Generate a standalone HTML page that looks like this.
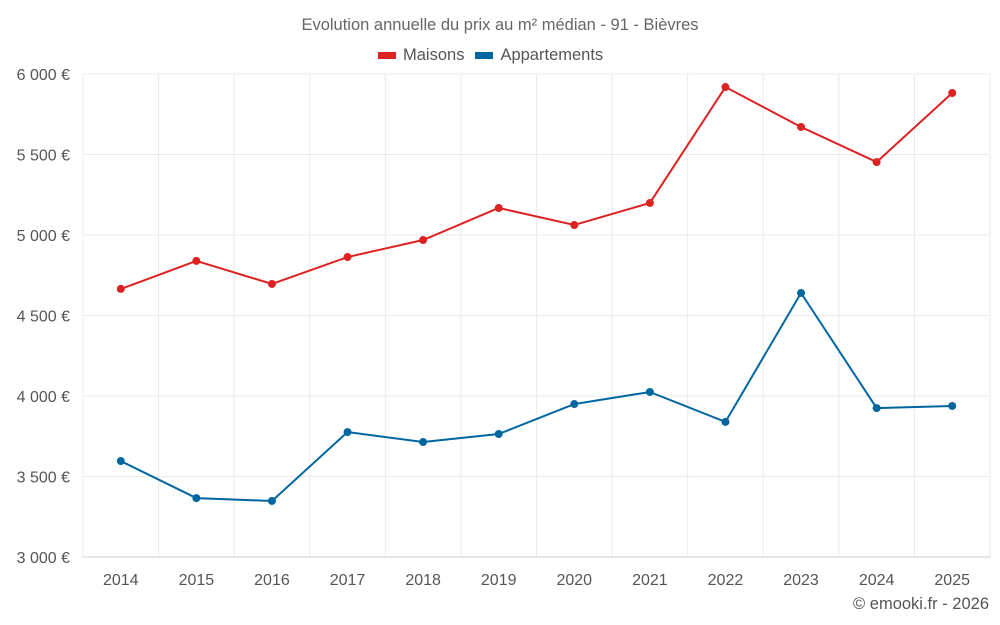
<!DOCTYPE html>
<html><head><meta charset="utf-8"><style>
html,body{margin:0;background:#fff;font-family:"Liberation Sans",sans-serif;width:1000px;height:625px;overflow:hidden;position:relative}
svg{display:block}
svg text{font-family:"Liberation Sans",sans-serif}
</style></head><body>
<svg id="chart" width="1000" height="625"></svg>
<script>
const years=["2014","2015","2016","2017","2018","2019","2020","2021","2022","2023","2024","2025"];
const maisons=[4665,4839,4696,4863,4969,5168,5062,5199,5919,5671,5453,5882];
const apparts=[3596,3366,3348,3776,3714,3764,3950,4025,3839,4640,3925,3938];
const yTicks=[3000,3500,4000,4500,5000,5500,6000];
const yTickLabels=["3 000 €","3 500 €","4 000 €","4 500 €","5 000 €","5 500 €","6 000 €"];
const L=83,R=990,T=74,B=557,yMin=3000,yMax=6000;
const bw=(R-L)/years.length;
const X=i=>L+bw*(i+0.5);
const Y=v=>B-(v-yMin)/(yMax-yMin)*(B-T);
const svg=document.getElementById('chart');
const NS='http://www.w3.org/2000/svg';
function mk(tag,attrs,parent){const e=document.createElementNS(NS,tag);for(const k in attrs)e.setAttribute(k,attrs[k]);(parent||svg).appendChild(e);return e;}
const grid=mk('g',{});


for(let i=0;i<=years.length;i++){mk('line',{x1:L+bw*i,x2:L+bw*i,y1:T,y2:B,stroke:'#ebebeb'},grid);}
yTicks.forEach((t,i)=>{
  mk('line',{x1:L,x2:R,y1:Y(t),y2:Y(t),stroke:i==0?'#ccc':'#ebebeb'},grid);
  const tx=mk('text',{x:70,y:Y(t)+6,'text-anchor':'end','font-size':16,fill:'#555'});
  tx.textContent=yTickLabels[i];
  
  
});
years.forEach((y,i)=>{
  const tx=mk('text',{x:X(i),y:585,'text-anchor':'middle','font-size':16,fill:'#555'});
  tx.textContent=y;
  
  
});
function series(data,color,name){
  const g=mk('g',{});
  
  
  mk('polyline',{points:data.map((v,i)=>X(i)+','+Y(v)).join(' '),fill:'none',stroke:color,'stroke-width':2},g);
  data.forEach((v,i)=>{
    const c=mk('circle',{cx:X(i),cy:Y(v),r:4,fill:color},g);
    
    
  });
}
series(maisons,'#dd2222','maisons-series');
series(apparts,'#0066a0','appartements-series');
</script>
<div style="position:absolute;left:0;top:16px;width:1000px;text-align:center;font-size:16.5px;color:#666">Evolution annuelle du prix au m² médian - 91 - Bièvres</div>
<div style="position:absolute;left:378px;top:46px;font-size:16.5px;color:#555;display:flex;align-items:center">
<span style="display:flex;align-items:center"><span style="display:inline-block;width:18px;height:7px;background:#dd2222;margin-right:7px"></span>Maisons</span>
<span style="display:flex;align-items:center;margin-left:11px"><span style="display:inline-block;width:18px;height:7px;background:#0066a0;margin-right:7px"></span>Appartements</span>
</div>
<div style="position:absolute;right:11px;top:595px;font-size:16.5px;color:#555">© emooki.fr - 2026</div>
</body></html>
